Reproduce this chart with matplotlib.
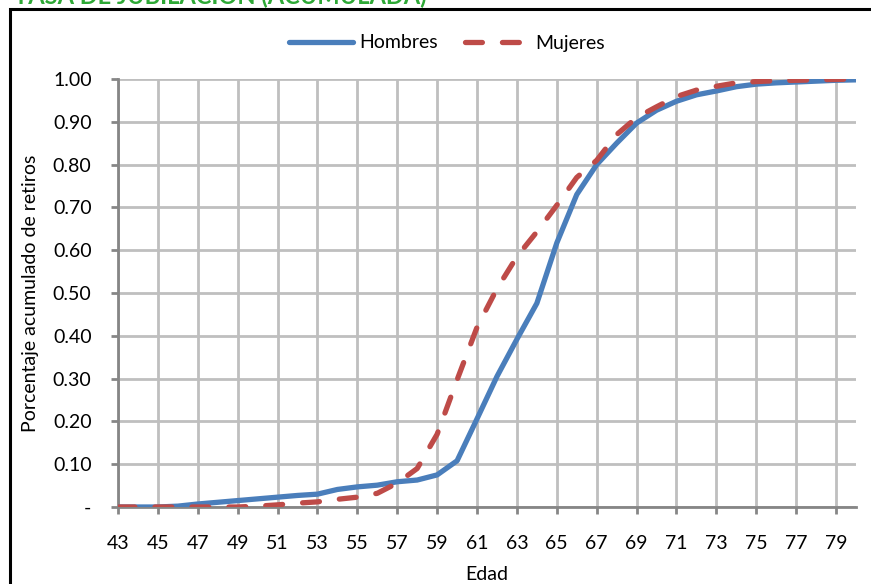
import numpy as np
import matplotlib
matplotlib.use("Agg")
import matplotlib.pyplot as plt
from matplotlib.patches import Rectangle

plt.rcParams['font.family'] = ['Lato', 'DejaVu Sans']

# edades 43..80
edades = list(range(43, 81))

hombres = [0.000, 0.000, 0.000, 0.002, 0.007, 0.011, 0.015, 0.019, 0.023, 0.027,
           0.030, 0.041, 0.047, 0.051, 0.059, 0.063, 0.075, 0.108, 0.206, 0.305,
           0.392, 0.476, 0.617, 0.730, 0.800, 0.850, 0.897, 0.927, 0.948, 0.963,
           0.972, 0.982, 0.988, 0.991, 0.993, 0.995, 0.997, 0.998]

mujeres = [0.000, 0.000, 0.000, 0.000, 0.000, 0.000, 0.000, 0.002, 0.005, 0.009,
           0.012, 0.018, 0.023, 0.032, 0.056, 0.090, 0.170, 0.297, 0.420, 0.510,
           0.585, 0.643, 0.705, 0.770, 0.810, 0.870, 0.910, 0.935, 0.959, 0.974,
           0.983, 0.991, 0.994, 0.996, 0.997, 0.998, 0.999, 1.000]

xticks = list(range(43, 80, 2))
yticks = [0.0, 0.1, 0.2, 0.3, 0.4, 0.5, 0.6, 0.7, 0.8, 0.9, 1.0]
ylabels = ["-"] + ["%.2f" % v for v in yticks[1:]]

fig = plt.figure(figsize=(8.71, 5.84), dpi=100)
ax = fig.add_axes([118 / 871, 1 - 507 / 584, (856 - 118) / 871, (507 - 79) / 584])

grid_c = "#BFBFBF"
ax.plot(edades, hombres, color="#4A7EBB", lw=3.8, label="Hombres",
        solid_capstyle="round", zorder=3)
ax.plot(edades, mujeres, color="#BE4B48", lw=3.8, label="Mujeres",
        dashes=(3.2, 3.8), dash_capstyle="round", zorder=4)

ax.set_xlim(43, 80)
ax.set_ylim(0, 1)
ax.set_xticks(xticks)
ax.set_yticks(yticks)
ax.set_yticklabels(ylabels)
ax.grid(True, color=grid_c, lw=2)
ax.set_axisbelow(True)
for s in ["top", "right"]:
    ax.spines[s].set_visible(False)
for s in ["left", "bottom"]:
    ax.spines[s].set_color("#868686")
    ax.spines[s].set_linewidth(2)
ax.tick_params(axis="both", colors="#868686", width=2, length=5, labelsize=14,
               labelcolor="black")
ax.tick_params(axis="y", pad=14)
ax.tick_params(axis="x", pad=15)

ax.set_xlabel("Edad", fontsize=14, labelpad=10)
ax.set_ylabel("Porcentaje acumulado de retiros", fontsize=14, labelpad=10)

leg = fig.legend(loc="center", bbox_to_anchor=(0.513, 1 - 43 / 584), ncol=2,
                 frameon=False, fontsize=14, handlelength=3.3, columnspacing=1.4,
                 handletextpad=0.3)

# marco del area del grafico
fig.patches.append(Rectangle((10 / 871, -0.05), 1.0, 1 - 9 / 584 + 0.05,
                             transform=fig.transFigure, fill=False,
                             edgecolor="black", lw=2.2))

# titulo recortado arriba, como en la imagen original
fig.text(14 / 871, 1 - 4 / 584, "TASA DE JUBILACIÓN (ACUMULADA)", color="#2EA836",
         fontsize=17, fontweight="bold", va="baseline", ha="left")

fig.savefig("out.png", dpi=100)
